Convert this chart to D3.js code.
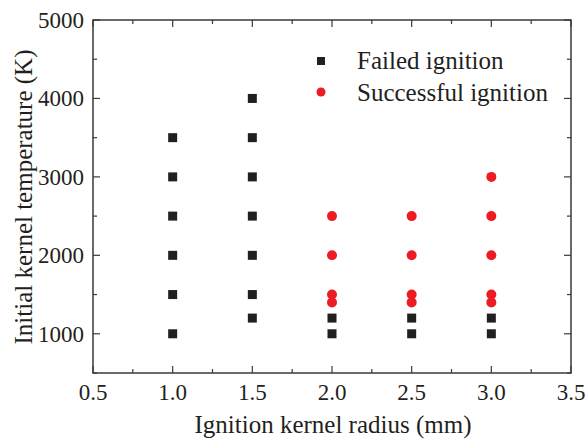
<!DOCTYPE html>
<html>
<head>
<meta charset="utf-8">
<script src="https://cdn.jsdelivr.net/npm/d3@7"></script>
<style>
  body { margin: 0; background: #fff; }
</style>
</head>
<body>
<div id="container"></div>
<script>
// failed ignition points (radius mm, temperature K)
const failedR = [1.0, 1.0, 1.0, 1.0, 1.0, 1.0, 1.5, 1.5, 1.5, 1.5, 1.5, 1.5, 1.5, 2.0, 2.0, 2.5, 2.5, 3.0, 3.0];
const failedT = [1000, 1500, 2000, 2500, 3000, 3500, 1200, 1500, 2000, 2500, 3000, 3500, 4000, 1000, 1200, 1000, 1200, 1000, 1200];

// successful ignition points
const successR = [2.0, 2.0, 2.0, 2.0, 2.5, 2.5, 2.5, 2.5, 3.0, 3.0, 3.0, 3.0, 3.0];
const successT = [1400, 1500, 2000, 2500, 1400, 1500, 2000, 2500, 1400, 1500, 2000, 2500, 3000];

const xTicks = [0.5, 1.0, 1.5, 2.0, 2.5, 3.0, 3.5];
const yTicks = [1000, 2000, 3000, 4000, 5000];
const legendLabels = ["Failed ignition", "Successful ignition"];

const w = 586;
const h = 446;
const plotL = 93, plotR = 571, plotT = 20, plotB = 373;
const font = "'Liberation Serif', 'Times New Roman', serif";
const ink = "#231f20";

let svg = d3.select("#container")
  .append("svg")
    .attr("width", w)
    .attr("height", h)
    .attr("font-family", font);

let xScale = d3.scaleLinear().domain([0.5, 3.5]).range([plotL, plotR]);
let yScale = d3.scaleLinear().domain([500, 5000]).range([plotB, plotT]);

const axisColor = "#3a3a3a";
const xMinor = d3.range(0.5, 3.51, 0.25);
const yMinor = d3.range(500, 5001, 500);

// frame
svg.append("rect")
  .attr("x", plotL).attr("y", plotT)
  .attr("width", plotR - plotL).attr("height", plotB - plotT)
  .attr("fill", "none").attr("stroke", axisColor).attr("stroke-width", 1.5);

function tickLen(v, majors) { return majors.some(m => Math.abs(m - v) < 1e-6) ? 7 : 4; }

// x ticks (bottom and top, inward)
xMinor.forEach(v => {
  let len = tickLen(v, xTicks);
  svg.append("line")
    .attr("x1", xScale(v)).attr("x2", xScale(v))
    .attr("y1", plotB).attr("y2", plotB - len)
    .attr("stroke", axisColor).attr("stroke-width", 1.2);
  svg.append("line")
    .attr("x1", xScale(v)).attr("x2", xScale(v))
    .attr("y1", plotT).attr("y2", plotT + len)
    .attr("stroke", axisColor).attr("stroke-width", 1.2);
});

// y ticks (left and right, inward)
yMinor.forEach(v => {
  let len = tickLen(v, yTicks);
  svg.append("line")
    .attr("x1", plotL).attr("x2", plotL + len)
    .attr("y1", yScale(v)).attr("y2", yScale(v))
    .attr("stroke", axisColor).attr("stroke-width", 1.2);
  svg.append("line")
    .attr("x1", plotR).attr("x2", plotR - len)
    .attr("y1", yScale(v)).attr("y2", yScale(v))
    .attr("stroke", axisColor).attr("stroke-width", 1.2);
});

// tick labels
svg.selectAll(".xlab").data(xTicks).enter()
  .append("text")
    .attr("x", d => xScale(d))
    .attr("y", 400)
    .attr("text-anchor", "middle")
    .attr("font-size", 23)
    .attr("fill", ink)
    .text(d => d.toFixed(1));

svg.selectAll(".ylab").data(yTicks).enter()
  .append("text")
    .attr("x", plotL - 9)
    .attr("y", d => yScale(d) + 8)
    .attr("text-anchor", "end")
    .attr("font-size", 23)
    .attr("fill", ink)
    .text(d => d);

// axis titles
svg.append("text")
  .attr("x", 333)
  .attr("y", 433)
  .attr("text-anchor", "middle")
  .attr("font-size", 25)
  .attr("fill", ink)
  .text("Ignition kernel radius (mm)");

svg.append("text")
  .attr("transform", "translate(32,197) rotate(-90)")
  .attr("text-anchor", "middle")
  .attr("font-size", 25)
  .attr("fill", ink)
  .text("Initial kernel temperature (K)");

// points
const sq = 9;
let failed = failedR.map((r, i) => ({ r: r, t: failedT[i] }));
let success = successR.map((r, i) => ({ r: r, t: successT[i] }));

svg.selectAll(".failed").data(failed).enter()
  .append("rect")
    .attr("x", d => xScale(d.r) - sq / 2)
    .attr("y", d => yScale(d.t) - sq / 2)
    .attr("width", sq).attr("height", sq)
    .attr("fill", ink);

svg.selectAll(".success").data(success).enter()
  .append("circle")
    .attr("cx", d => xScale(d.r))
    .attr("cy", d => yScale(d.t))
    .attr("r", 5)
    .attr("fill", "#ed1c24");

// legend
svg.append("rect")
  .attr("x", 317).attr("y", 57)
  .attr("width", 8).attr("height", 8)
  .attr("fill", ink);
svg.append("circle")
  .attr("cx", 321).attr("cy", 92).attr("r", 4.5)
  .attr("fill", "#ed1c24");

svg.selectAll(".leg").data(legendLabels).enter()
  .append("text")
    .attr("x", 357)
    .attr("y", (d, i) => 69 + i * 32)
    .attr("font-size", 25)
    .attr("fill", ink)
    .text(d => d);
</script>
</body>
</html>
